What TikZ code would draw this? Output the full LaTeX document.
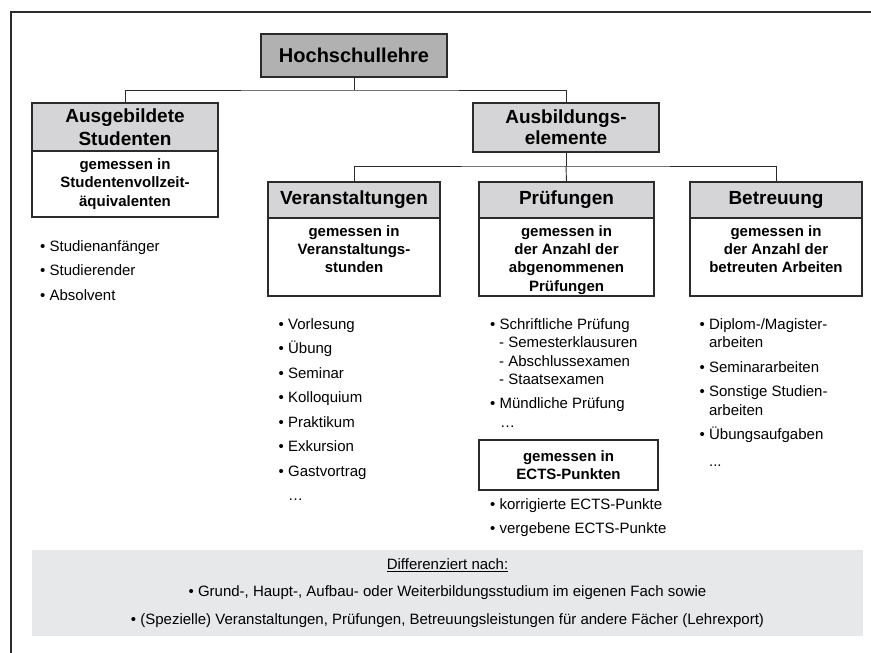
\documentclass[tikz,border=0pt]{standalone}
\usepackage{fontspec}
\setmainfont{Liberation Sans}
\definecolor{topgray}{HTML}{B1B1B1}
\definecolor{hdrgray}{HTML}{D5D5D7}
\definecolor{bggray}{HTML}{E7E8EA}
\definecolor{linecol}{HTML}{2B2B2B}
\begin{document}
\begin{tikzpicture}[x=1pt,y=-1pt,
  box/.style={draw=linecol, line width=1.2pt, inner sep=0pt, outer sep=0pt, align=center},
  hdr/.style={box, fill=hdrgray, font=\fontsize{19}{22.5}\selectfont\bfseries},
  body/.style={box, fill=white},
  btext/.style={inner sep=0pt, align=center, font=\fontsize{15}{18.3}\selectfont\bfseries},
  list/.style={inner sep=0pt, align=left, anchor=north west},
  conn/.style={draw=linecol, line width=0.9pt}]
\useasboundingbox (0,0) rectangle (871,653);
\draw[line width=1.3pt, draw=linecol] (871,12) -- (11,12) -- (11,653);

% top
\node[box, fill=topgray, minimum width=186pt, minimum height=43pt,
      font=\fontsize{20}{24}\selectfont\bfseries] (top) at (354,55.5) {Hochschullehre};

% Ausgebildete Studenten
\node[hdr, minimum width=186pt, minimum height=48pt] (ausH) at (125,127) {Ausgebildete\\Studenten};
\node[body, minimum width=186pt, minimum height=66pt, anchor=north,
      font=\fontsize{15}{18.3}\selectfont\bfseries] (ausB) at (ausH.south)
      {gemessen in\\Studentenvollzeit-\\äquivalenten};

% Ausbildungselemente
\node[hdr, minimum width=186pt, minimum height=49pt, font=\fontsize{19}{21}\selectfont\bfseries]
      (elem) at (566,127.5) {Ausbildungs-\\elemente};

% Veranstaltungen
\node[hdr, minimum width=172pt, minimum height=36pt] (vH) at (354,200) {Veranstaltungen};
\node[body, minimum width=172pt, minimum height=78pt, anchor=north] (vB) at (vH.south) {};
\node[btext, anchor=north] (vT) at ([yshift=-7.3pt]vB.north) {gemessen in\\Veranstaltungs-\\stunden};

% Pruefungen
\node[hdr, minimum width=175pt, minimum height=36pt] (pH) at (566.5,200) {Prüfungen};
\node[body, minimum width=175pt, minimum height=78pt, anchor=north] (pB) at (pH.south) {};
\node[btext, anchor=north] (pT) at ([yshift=-7.3pt]pB.north) {gemessen in\\der Anzahl der\\abgenommenen\\Prüfungen};

% Betreuung
\node[hdr, minimum width=172pt, minimum height=36pt] (bH) at (776,200) {Betreuung};
\node[body, minimum width=172pt, minimum height=78pt, anchor=north] (bB) at (bH.south) {};
\node[btext, anchor=north] (bT) at ([yshift=-7.3pt]bB.north) {gemessen in\\der Anzahl der\\betreuten Arbeiten};

% connectors
\coordinate (j1) at (354,90);
\coordinate (j2) at (566,166);
\draw[conn] (top.south) -- (j1);
\draw[conn] (ausH.north) |- (j1) -| (elem.north);
\draw[conn] (elem.south) -- (j2);
\draw[conn] (vH.north) |- (j2) -| (bH.north);
\draw[conn] (j2) -- (pH.north);

% lists
\node[list, font=\fontsize{15}{24.5}\selectfont] (l1) at (40,240)
  {• Studienanfänger\\• Studierender\\• Absolvent};
\node[list, font=\fontsize{15}{24.5}\selectfont] (l2) at (278.5,318)
  {• Vorlesung\\• Übung\\• Seminar\\• Kolloquium\\• Praktikum\\• Exkursion\\• Gastvortrag\\\hphantom{• }…};
\node[list, font=\fontsize{15}{18.5}\selectfont] (l3) at (490,318)
  {• Schriftliche Prüfung\\\hspace*{9pt}- Semesterklausuren\\\hspace*{9pt}- Abschlussexamen\\\hspace*{9pt}- Staatsexamen\\[5.5pt]• Mündliche Prüfung\\\hspace*{10pt}…};
\node[box, fill=white, minimum width=179pt, minimum height=50pt,
      font=\fontsize{15}{18.3}\selectfont\bfseries] (ects) at (568.5,465) {gemessen in\\ECTS-Punkten};
\node[list, font=\fontsize{15}{24.5}\selectfont] (l4) at (490,498)
  {• korrigierte ECTS-Punkte\\• vergebene ECTS-Punkte};
\node[list, font=\fontsize{15}{18.5}\selectfont] (l5) at (699.5,318)
  {• Diplom-/Magister-\\\hphantom{• }arbeiten\\[6pt]• Seminararbeiten\\[6pt]• Sonstige Studien-\\\hphantom{• }arbeiten\\[6pt]• Übungsaufgaben\\[8.5pt]\hphantom{• }...};

% bottom box
\node[fill=bggray, minimum width=831pt, minimum height=86pt, inner sep=0pt, align=center,
      font=\fontsize{15}{27.5}\selectfont] (diff) at (447.5,593)
  {\underline{Differenziert nach:}\\• Grund-, Haupt-, Aufbau- oder Weiterbildungsstudium im eigenen Fach sowie\\• (Spezielle) Veranstaltungen, Prüfungen, Betreuungsleistungen für andere Fächer (Lehrexport)};
\end{tikzpicture}
\end{document}
